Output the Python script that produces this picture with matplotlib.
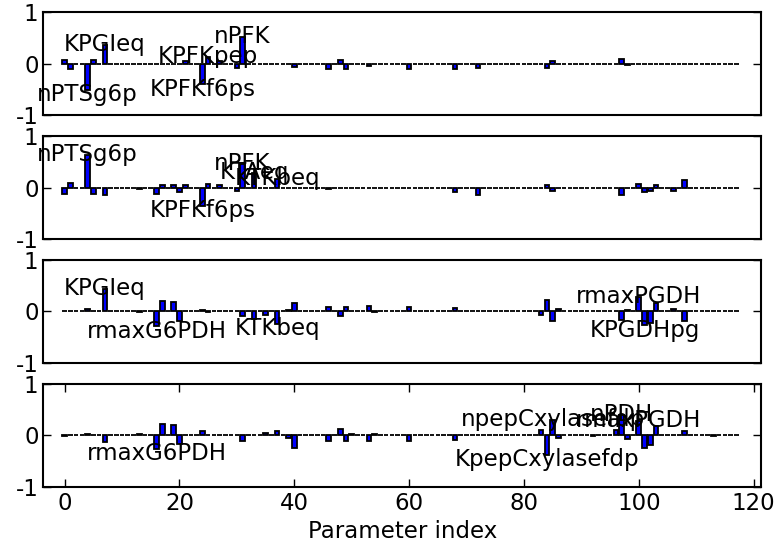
import numpy as np
import matplotlib
matplotlib.use("Agg")
import matplotlib.pyplot as plt

# -----------------------------
# Data
# -----------------------------
N_PARAMS = 118

names = {
    4: "nPTSg6p", 7: "KPGIeq", 16: "rmaxG6PDH", 24: "KPFKf6ps", 25: "KPFKpep",
    31: "nPFK", 33: "KTAeq", 37: "KTKbeq", 84: "KpepCxylasefdp",
    85: "npepCxylasefdp", 97: "nPDH", 100: "rmaxPGDH", 101: "KPGDHpg",
}

idx1 = [0, 1, 4, 5, 7, 21, 24, 25, 27, 30, 31, 40, 46, 48, 49, 53, 60, 68, 72,
        84, 85, 97, 98]
val1 = [0.065, -0.10, -0.50, 0.065, 0.36, 0.05, -0.40, 0.13, 0.05, -0.08, 0.52,
        -0.06, -0.11, 0.07, -0.11, -0.05, -0.10, -0.10, -0.09, -0.09, 0.05, 0.10, -0.03]

idx2 = [0, 1, 4, 5, 7, 13, 16, 17, 19, 20, 21, 24, 25, 27, 30, 31, 33, 37, 46,
        68, 72, 84, 85, 97, 100, 101, 102, 103, 106, 108]
val2 = [-0.12, 0.08, 0.63, -0.12, -0.14, -0.03, -0.12, 0.05, 0.05, -0.08, 0.05,
        -0.36, 0.06, 0.05, -0.06, 0.45, 0.29, 0.17, -0.03, -0.08, -0.14, 0.05,
        -0.06, -0.14, 0.07, -0.08, -0.06, 0.05, -0.06, 0.14]

idx3 = [4, 7, 13, 16, 17, 19, 20, 24, 25, 31, 33, 35, 37, 39, 40, 46, 48, 49,
        53, 54, 60, 68, 83, 84, 85, 86, 97, 98, 100, 101, 102, 103, 106, 108]
val3 = [0.045, 0.44, -0.02, -0.29, 0.20, 0.18, -0.19, 0.03, -0.02, -0.08, -0.14,
        -0.06, -0.25, 0.03, 0.17, 0.08, -0.09, 0.08, 0.10, -0.02, 0.08, 0.065,
        -0.06, 0.23, -0.19, 0.045, -0.16, 0.03, 0.28, -0.27, -0.23, 0.16, 0.045, -0.19]

idx4 = [0, 4, 7, 13, 16, 17, 19, 20, 24, 31, 35, 37, 39, 40, 46, 48, 49, 50, 53,
        54, 60, 68, 83, 84, 85, 86, 92, 96, 97, 98, 100, 101, 102, 103, 108, 113]
val4 = [-0.02, 0.02, -0.14, 0.03, -0.27, 0.21, 0.19, -0.16, 0.09, -0.12, 0.04,
        0.09, -0.05, -0.24, -0.12, 0.13, -0.12, 0.02, -0.11, 0.02, -0.12, -0.09,
        0.10, -0.38, 0.30, -0.06, -0.02, 0.11, 0.39, -0.08, 0.27, -0.24, -0.18,
        0.17, 0.08, -0.01]

xticks = [0, 20, 40, 60, 80, 100, 120]
N_LABELS = 5

# -----------------------------
# Style
# -----------------------------
plt.rcParams["font.family"] = ["DejaVu Sans"]
plt.rcParams["font.size"] = 16.5
plt.rcParams["axes.unicode_minus"] = False
plt.rcParams["axes.linewidth"] = 1.5


def full_series(idx, vals):
    s = np.zeros(N_PARAMS)
    s[idx] = vals
    return s


# -----------------------------
# Plot
# -----------------------------
panels = [(idx1, val1), (idx2, val2), (idx3, val3), (idx4, val4)]
fig, axes = plt.subplots(4, 1, figsize=(7.75, 5.52), dpi=100)
plt.subplots_adjust(left=0.056, right=0.982, bottom=0.118, top=0.978, hspace=0.2)

x = np.arange(N_PARAMS)
for i, (ax, (idx, vals)) in enumerate(zip(axes, panels)):
    s = full_series(idx, vals)
    ax.bar(x, s, width=0.8, color="blue", edgecolor="black", linewidth=1.3, align="center")

    # label the largest sensitivities
    top = np.argsort(-np.abs(s))[:N_LABELS]
    for k in top:
        v = s[k]
        ty = v + 0.01 if v > 0 else v - 0.09
        ax.text(k, ty, names.get(k, str(k)), ha="center", va="center")

    ax.set_xlim(-3.7, 121.3)
    ax.set_ylim(-1, 1)
    ax.set_yticks([-1, 0, 1])
    ax.tick_params(direction="in", length=6, width=1, right=True, top=True)
    if i < 3:
        ax.tick_params(axis="x", bottom=False, top=False, labelbottom=False)
    else:
        ax.set_xticks(xticks)
        ax.set_xlabel("Parameter index")

fig.savefig("out.png", dpi=100)
